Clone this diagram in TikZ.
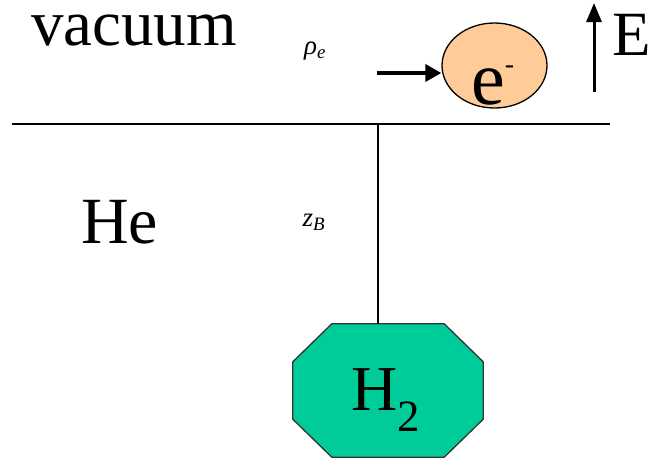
\documentclass[tikz,border=0pt]{standalone}
\usepackage{fontspec}
\setmainfont{Liberation Serif}
\newfontfamily\timesfont{Liberation Serif}
\usetikzlibrary{arrows.meta,shapes.geometric}
\definecolor{peach}{HTML}{FFCC99}
\definecolor{hydrogen}{HTML}{00CC99}
\tikzset{line width=1.6pt,
  bigtext/.style={font=\timesfont\fontsize{65}{65}\selectfont,inner sep=0pt},
  smalltext/.style={font=\timesfont\itshape\fontsize{27}{27}\selectfont,inner sep=0pt},
  surface/.style={draw=black,line width=2pt},
  electron/.style={ellipse,draw=black,line width=1.3pt,fill=peach,
    minimum width=105pt,minimum height=85pt,inner sep=0pt},
  molecule/.style={rectangle,minimum width=190pt,minimum height=133pt,inner sep=0pt},
  chamfer/.style={draw=black!80,fill=hydrogen,line width=1.3pt,line join=round},
  push/.style={-{Triangle[length=16pt,width=17pt]},line width=3.5pt},
  fieldarrow/.style={-{Triangle[length=19pt,width=15pt]},line width=3pt}}
\begin{document}
\begin{tikzpicture}[x=1pt,y=-1pt]
\useasboundingbox (0,0) rectangle (653,459);
% vacuum / helium surface
\coordinate (surfL) at (12,124);
\coordinate (surfR) at (610,124);
\coordinate (surfpt) at (378,124);
\draw[surface] (surfL) -- (surfR);
\node[bigtext,anchor=base west] (vacuum) at (31,45) {vacuum};
\node[bigtext,font=\timesfont\fontsize{66}{66}\selectfont,anchor=base west] (helium) at (81,243) {He};
\node[smalltext] (rho) at (315,51) {ρ\textsubscript{e}};
\node[smalltext] (zb) at (314,222) {z\textsubscript{B}};
% electron above the surface
\node[electron] (elec) at (494.5,65.5) {};
\node[bigtext,font=\timesfont\fontsize{76}{76}\selectfont,anchor=base west] (etext) at (471,104)
  {e\raisebox{31pt}{\fontsize{28}{28}\selectfont -}};
\coordinate (pushstart) at (377,73);
\draw[push] (pushstart) -- (pushstart -| elec.west);
% field
\coordinate (Ebot) at (594,92);
\coordinate (Etop) at (594,3);
\draw[fieldarrow] (Ebot) -- (Etop);
\node[bigtext,font=\timesfont\fontsize{63}{63}\selectfont,anchor=base west] (field) at (612,55) {E};
% molecule below
\node[molecule] (htwo) at (388,390.5) {};
\draw[chamfer] ([xshift=39pt]htwo.north west) -- ([xshift=-39pt]htwo.north east)
  -- ([yshift=-38pt]htwo.north east) -- ([yshift=38pt]htwo.south east)
  -- ([xshift=-39pt]htwo.south east) -- ([xshift=39pt]htwo.south west)
  -- ([yshift=38pt]htwo.south west) -- ([yshift=-38pt]htwo.north west) -- cycle;
\node[bigtext,font=\timesfont\fontsize{64}{64}\selectfont,anchor=base west] (htwolabel) at (351,410)
  {H\textsubscript{2}};
\draw[line width=1.4pt] (surfpt) -- (surfpt |- htwo.north);
\end{tikzpicture}
\end{document}
